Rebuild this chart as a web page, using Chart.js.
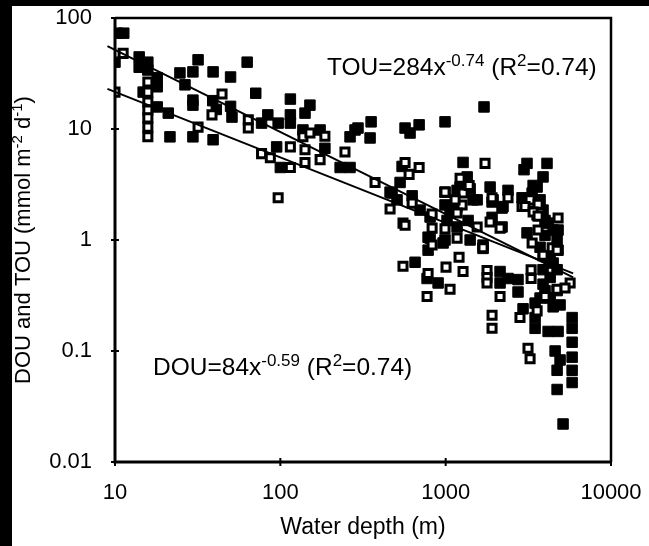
<!DOCTYPE html>
<html>
<head>
<meta charset="utf-8">
<script src="https://cdn.jsdelivr.net/npm/chart.js@4.4.0/dist/chart.umd.min.js"></script>
<style>
  html, body { margin: 0; padding: 0; background: #fff; overflow: hidden; }
  canvas { display: block; }
</style>
</head>
<body>
<canvas id="c" width="649" height="546"></canvas>
<script>
// TOU = filled squares, DOU = open squares (depth in m, flux in mmol m-2 d-1)
const touDepth = [10.3, 11.3, 10, 14, 14, 15.8, 15.8, 18, 18, 14.8, 18, 21.5, 21, 24.7, 26.5, 29.6, 31.8, 29.6, 29.6, 29.6,
  39.2, 39.2, 50, 63, 71, 39, 41, 50, 51, 77, 84, 97, 115, 115, 115, 141, 151, 137, 174, 95,
  100, 186, 230, 264, 264, 283, 295, 354, 349, 568, 609, 691, 991, 1706, 1274, 545, 3105, 4102, 2978, 3881,
  3380, 530, 474, 700, 805, 1222, 1349, 1406, 1466, 1857, 1936, 2223, 2897, 3333, 3573, 4786, 1063, 461, 508, 627,
  991, 1172, 1550, 1172, 991, 1908, 2383, 2193, 1908, 2193, 1019, 1172, 1367, 805, 991, 1406, 1683, 3881, 4165, 3105,
  4721, 3724, 653, 783, 783, 772, 900, 965, 2133, 2133, 2383, 2739, 2739, 2938, 3475, 3475, 3475, 4165, 4786, 4592,
  4920, 4721, 4721, 5130, 5820, 5820, 5820, 5820, 5820, 5820, 3990, 4467, 4285, 3881, 4467, 3724, 3990, 4467, 4786, 4285,
  4721, 3881, 4285, 4721, 4920, 3724, 3573, 3990, 1683];
const touRate = [73, 73, 40, 44.6, 36, 40, 34, 29, 24, 21.5, 15.8, 8.5, 13.9, 32, 25, 32.7, 42, 18.2, 16.4, 8.5,
  32.7, 8.0, 29.4, 40, 21, 18, 15, 16, 12.8, 11.3, 13.4, 11.3, 18.6, 13.4, 11.3, 13.9, 16.4, 9.8, 9.8, 6.9,
  4.5, 6.7, 4.5, 4.5, 8.5, 9.8, 10.2, 11.6, 8.3, 10.2, 9.2, 10.9, 11.6, 15.8, 5.0, 4.6, 4.9, 4.9, 4.3, 3.7,
  3.1, 3.3, 2.65, 1.86, 1.61, 3.0, 3.7, 2.9, 2.3, 3.0, 2.3, 2.0, 2.4, 2.65, 3.0, 1.23, 1.86, 2.7, 2.3, 2.5,
  2.7, 2.8, 2.3, 2.0, 2.07, 2.2, 2.8, 1.94, 1.6, 1.31, 1.5, 1.31, 1.5, 1.04, 1.0, 1.0, 0.9, 1.86, 1.42, 1.16,
  1.0, 0.86, 0.63, 1.06, 0.81, 0.45, 0.41, 0.94, 0.52, 0.41, 0.45, 0.44, 0.34, 0.24, 0.27, 0.20, 0.16, 0.15, 0.15, 0.10,
  0.083, 0.067, 0.045, 0.022, 0.20, 0.16, 0.12, 0.088, 0.067, 0.052, 0.35, 0.25, 0.46, 0.54, 0.62, 0.30, 1.1, 1.23, 0.81, 0.70,
  0.54, 0.40, 0.30, 0.35, 0.26, 2.3, 1.68, 1.5, 0.84];

const douDepth = [10, 11.2, 15.8, 15.8, 15.8, 15.8, 15.8, 15.8, 15.8, 44.4, 38.6, 31.8, 64, 64, 77, 87, 115, 115, 141, 141,
  174, 246, 137, 151, 186, 97, 374, 568, 601, 691, 461, 552, 627, 828, 568, 1730, 991, 1222, 1274, 1257,
  1387, 1908, 2383, 2897, 3333, 3724, 4786, 1140, 1172, 1857, 828, 991, 1550, 828, 1172, 3240, 3622, 3020, 3380, 3622,
  2133, 3622, 3333, 4406, 3881, 4721, 552, 783, 1063, 772, 1205, 1005, 1274, 1683, 1779, 1779, 1779, 2133, 3287, 3287,
  2815, 3573, 1908, 1908, 3148, 3240, 4721, 5660, 5272, 3881, 3990];
const douRate = [21.5, 48, 26.5, 21.5, 17.5, 14.8, 12.6, 10.4, 8.5, 20.7, 13.4, 10.4, 12.1, 10.2, 6.0, 5.5, 4.5, 6.9, 6.5, 5.0,
  5.3, 6.2, 8.5, 9.2, 8.6, 2.4, 3.3, 5.0, 3.9, 4.5, 1.9, 1.42, 2.15, 1.71, 1.36, 4.9, 2.7, 3.6, 2.65, 2.07,
  3.1, 2.4, 2.4, 2.0, 2.15, 1.75, 1.58, 2.3, 1.75, 1.45, 1.28, 1.26, 1.31, 0.9, 1.04, 2.3, 2.1, 2.0, 1.79, 1.64,
  1.28, 1.23, 0.94, 0.85, 0.72, 0.81, 0.58, 0.50, 0.36, 0.31, 0.70, 0.57, 0.52, 0.85, 0.53, 0.46, 0.41, 0.31, 0.54, 0.45,
  0.20, 0.23, 0.21, 0.16, 0.106, 0.085, 0.36, 0.41, 0.37, 0.73, 0.31];

// power-law fits, end points
const fitDepth = [9, 5900];
const touFit = [55.9, 0.46];
const douFit = [23, 0.50];

const xTicks = [10, 100, 1000, 10000];
const yTicks = [0.01, 0.1, 1, 10, 100];

const FONT = '"Liberation Sans", Arial, sans-serif';

function pts(xs, ys) {
  return xs.map((x, i) => ({ x: x, y: ys[i] }));
}

// draws text with superscript parts, returns width
function richText(ctx, parts, x, y, size, measureOnly) {
  let cx = x;
  for (const [t, sup] of parts) {
    const s = sup ? Math.round(size * 0.68) : size;
    ctx.font = s + 'px ' + FONT;
    if (!measureOnly) ctx.fillText(t, cx, sup ? y - size * 0.38 : y);
    cx += ctx.measureText(t).width;
  }
  return cx - x;
}

const decor = {
  id: 'decor',
  beforeDraw(chart) {
    const ctx = chart.ctx;
    ctx.save();
    ctx.fillStyle = '#fff';
    ctx.fillRect(0, 0, chart.width, chart.height);
    ctx.fillStyle = '#000';
    ctx.fillRect(0, 0, chart.width, 6);
    ctx.fillRect(0, 0, 12, chart.height);
    ctx.restore();
  },
  afterDatasetsDraw(chart) {
    const ctx = chart.ctx;
    const a = chart.chartArea;
    const xs = chart.scales.x, ys = chart.scales.y;
    ctx.save();
    ctx.strokeStyle = '#000';
    ctx.lineWidth = 2.5;
    ctx.beginPath();
    ctx.moveTo(a.left, a.top); ctx.lineTo(a.right, a.top); ctx.lineTo(a.right, a.bottom);
    ctx.stroke();
    ctx.lineWidth = 3;
    ctx.beginPath();
    ctx.moveTo(a.left, a.top); ctx.lineTo(a.left, a.bottom); ctx.lineTo(a.right, a.bottom);
    ctx.stroke();
    ctx.lineWidth = 2;
    ctx.beginPath();
    yTicks.forEach(v => {
      const p = ys.getPixelForValue(v);
      ctx.moveTo(a.left - 4, p); ctx.lineTo(a.left + 4, p);
    });
    xTicks.forEach(v => {
      const p = xs.getPixelForValue(v);
      ctx.moveTo(p, a.bottom - 4); ctx.lineTo(p, a.bottom + 4);
    });
    ctx.stroke();
    ctx.restore();
  },
  afterDraw(chart) {
    const ctx = chart.ctx;
    ctx.save();
    ctx.fillStyle = '#000';
    ctx.textBaseline = 'alphabetic';
    ctx.textAlign = 'left';
    richText(ctx, [['TOU=284x', 0], ['-0.74', 1], [' (R', 0], ['2', 1], ['=0.74)', 0]], 327, 75, 24.5);
    richText(ctx, [['DOU=84x', 0], ['-0.59', 1], [' (R', 0], ['2', 1], ['=0.74)', 0]], 153, 375, 24.5);

    const title = [['DOU and TOU (mmol m', 0], ['-2', 1], [' d', 0], ['-1', 1], [')', 0]];
    const w = richText(ctx, title, 0, 0, 22, true);
    ctx.translate(30, 240);
    ctx.rotate(-Math.PI / 2);
    richText(ctx, title, -w / 2, 0, 22);
    ctx.restore();
  }
};

new Chart(document.getElementById('c'), {
  type: 'scatter',
  data: {
    datasets: [
      { label: 'TOU fit', data: pts(fitDepth, touFit), showLine: true, borderColor: '#000', borderWidth: 2,
        pointRadius: 0, clip: false, order: 0 },
      { label: 'DOU fit', data: pts(fitDepth, douFit), showLine: true, borderColor: '#000', borderWidth: 2,
        pointRadius: 0, clip: false, order: 0 },
      { label: 'DOU', data: pts(douDepth, douRate), pointStyle: 'rect', pointRadius: 5.7, borderWidth: 3,
        borderColor: '#000', backgroundColor: '#fff', order: 1 },
      { label: 'TOU', data: pts(touDepth, touRate), pointStyle: 'rect', pointRadius: 7.4, borderWidth: 1,
        borderColor: '#000', backgroundColor: '#000', order: 2 }
    ]
  },
  options: {
    responsive: false,
    animation: false,
    devicePixelRatio: 1,
    layout: { autoPadding: false, padding: { top: 18, right: 38, bottom: 0, left: 0 } },
    plugins: { legend: { display: false }, tooltip: { enabled: false } },
    scales: {
      x: {
        type: 'logarithmic', min: 10, max: 10000,
        afterBuildTicks: s => { s.ticks = xTicks.map(v => ({ value: v })); },
        afterFit: s => { s.height = 84; s.paddingLeft = 0; s.paddingRight = 0; },
        grid: { display: false, drawTicks: false },
        border: { display: false },
        ticks: { color: '#000', font: { size: 22, family: FONT }, padding: 18, maxRotation: 0, autoSkip: false,
          callback: v => String(v) },
        title: { display: true, text: 'Water depth (m)', color: '#000', font: { size: 23, family: FONT },
          padding: { top: 0, bottom: 5 } }
      },
      y: {
        type: 'logarithmic', min: 0.01, max: 100,
        afterBuildTicks: s => { s.ticks = yTicks.map(v => ({ value: v })); },
        afterFit: s => { s.width = 115; s.paddingTop = 0; s.paddingBottom = 0; },
        grid: { display: false, drawTicks: false },
        border: { display: false },
        ticks: { color: '#000', font: { size: 22, family: FONT }, padding: 23, autoSkip: false,
          callback: v => String(v) }
      }
    }
  },
  plugins: [decor]
});
</script>
</body>
</html>
